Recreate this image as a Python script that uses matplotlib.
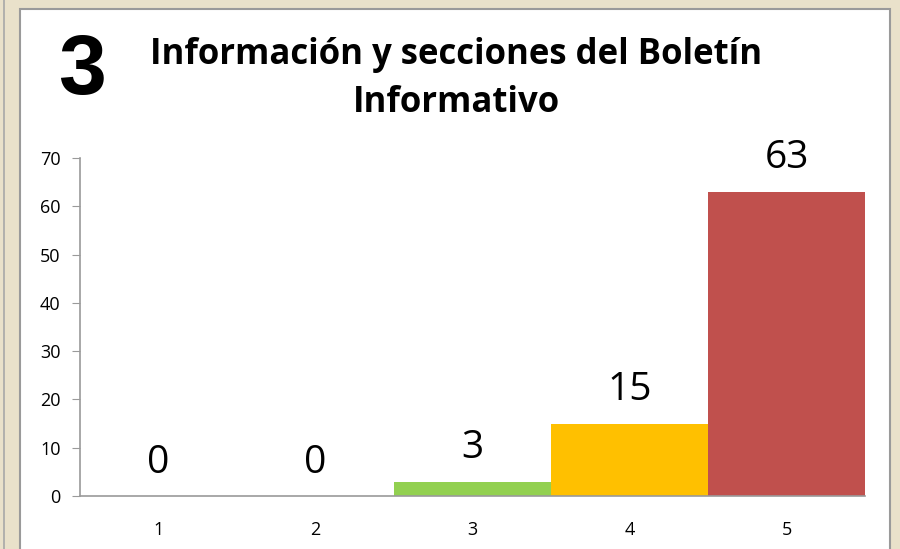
import matplotlib
matplotlib.use("Agg")
import matplotlib.pyplot as plt
from matplotlib.patches import Rectangle
from matplotlib.lines import Line2D

categorias = ["1", "2", "3", "4", "5"]
valores = [0, 0, 3, 15, 63]
colores = ["#4F81BD", "#4F81BD", "#92D050", "#FFC000", "#C0504D"]
titulo = ["Información y secciones del Boletín", "Informativo"]
numero = "3"

W, H = 900, 549
fig = plt.figure(figsize=(9, 5.49), dpi=100)
fig.patch.set_facecolor("#E9E1CA")

# panel blanco con borde gris
fig.patches.append(Rectangle((20 / W, -0.05), (890 - 20) / W, 1.05 - 9 / H,
                             transform=fig.transFigure, facecolor="white",
                             edgecolor="#9A9A9A", linewidth=1.5, zorder=-5))
fig.lines.append(Line2D([4 / W, 4 / W], [0, 1], transform=fig.transFigure,
                        color="#A8A8A8", linewidth=1.2, zorder=-5))

ax = fig.add_axes([80 / W, (H - 496) / H, (865 - 80) / W, (496 - 158) / H])
ax.set_facecolor("none")
x = range(len(categorias))
ax.bar(x, valores, width=1.0, color=colores, linewidth=0)
for i, v in enumerate(valores):
    ax.text(i, v + 3.0, str(v), ha="center", va="bottom",
            fontsize=28, family="Open Sans", color="black")

ax.set_xlim(-0.5, 4.5)
ax.set_ylim(0, 70)
ax.set_yticks(range(0, 71, 10))
ax.set_xticks(list(x))
ax.set_xticklabels(categorias)
for s in ["top", "right"]:
    ax.spines[s].set_visible(False)
for s in ["left", "bottom"]:
    ax.spines[s].set_color("#9A9A9A")
    ax.spines[s].set_linewidth(1.2)
ax.tick_params(axis="y", length=6, color="#9A9A9A", labelsize=13, pad=8)
ax.tick_params(axis="x", length=0, labelsize=13, pad=18)
for lbl in ax.get_xticklabels() + ax.get_yticklabels():
    lbl.set_family("Open Sans")

for linea, yp in zip(titulo, [55, 103]):
    fig.text(456 / W, 1 - yp / H, linea, ha="center", va="center",
             fontsize=25, fontweight="bold", family="Open Sans")
fig.text(82 / W, 1 - 72 / H, numero, ha="center", va="center",
         fontsize=62, fontweight="bold", family="Liberation Sans")

fig.savefig("out.png", dpi=100, facecolor=fig.get_facecolor())
